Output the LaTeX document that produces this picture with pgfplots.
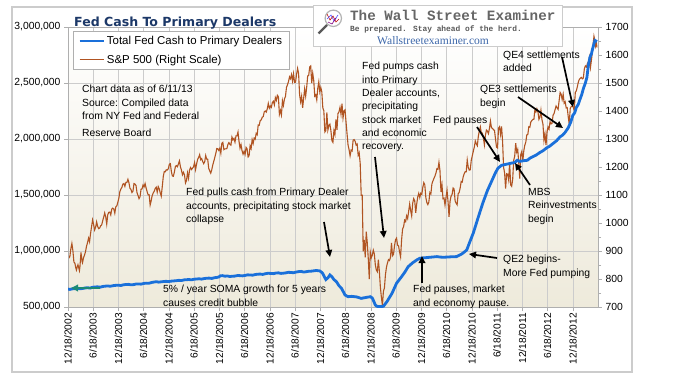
\documentclass[border=0pt]{standalone}
\usepackage{pgfplots}
\pgfplotsset{compat=1.18}
\usepackage{pgfplotstable}
\usepackage{fontspec}
\setmainfont{Liberation Sans}
\newfontfamily\titlefont{DejaVu Sans}
\newfontfamily\logofont{Liberation Mono}
\newfontfamily\urlfont{Liberation Serif}
\usetikzlibrary{arrows.meta}
\definecolor{fedblue}{RGB}{26,112,218}
\definecolor{spbrown}{RGB}{176,84,34}
\definecolor{bgbeige}{RGB}{238,234,219}
\definecolor{gridgray}{RGB}{204,204,204}
\definecolor{axgray}{RGB}{175,175,175}
\definecolor{titlenavy}{RGB}{28,56,104}
\definecolor{tealarrow}{RGB}{28,138,118}
\definecolor{urlblue}{RGB}{62,104,170}
\newcommand{\annfont}{\fontsize{10.4}{13.4}\selectfont}

\pgfplotstableread{
x y
2002.96 890
2002.98 875
2003.00 880
2003.02 909
2003.04 927
2003.06 901
2003.08 861
2003.10 856
2003.12 838
2003.13 832
2003.15 846
2003.16 851
2003.19 830
2003.20 845
2003.22 895
2003.24 864
2003.25 858
2003.27 876
2003.29 885
2003.31 898
2003.33 917
2003.35 930
2003.37 946
2003.39 933
2003.41 963
2003.43 987
2003.45 1011
2003.47 995
2003.49 975
2003.51 985
2003.53 1004
2003.55 988
2003.57 980
2003.59 982
2003.61 990
2003.63 993
2003.65 1008
2003.67 1021
2003.69 1036
2003.71 1022
2003.73 996
2003.75 1029
2003.77 1038
2003.79 1039
2003.81 1029
2003.83 1050
2003.85 1053
2003.87 1050
2003.89 1035
2003.91 1058
2003.93 1061
2003.95 1074
2003.97 1088
2003.99 1112
2004.01 1121
2004.03 1127
2004.05 1139
2004.07 1141
2004.09 1131
2004.11 1145
2004.13 1145
2004.15 1156
2004.17 1144
2004.19 1124
2004.21 1120
2004.23 1109
2004.25 1114
2004.27 1141
2004.29 1139
2004.31 1134
2004.33 1108
2004.35 1098
2004.37 1087
2004.39 1094
2004.41 1121
2004.43 1122
2004.45 1136
2004.47 1129
2004.49 1141
2004.51 1125
2004.53 1112
2004.55 1101
2004.57 1101
2004.59 1064
2004.61 1079
2004.63 1098
2004.65 1107
2004.67 1113
2004.69 1123
2004.71 1128
2004.73 1110
2004.75 1130
2004.77 1122
2004.79 1108
2004.81 1096
2004.83 1130
2004.85 1166
2004.87 1184
2004.89 1183
2004.91 1190
2004.93 1189
2004.95 1194
2004.97 1210
2004.99 1212
2005.01 1184
2005.03 1168
2005.05 1167
2005.07 1182
2005.09 1202
2005.11 1205
2005.13 1201
2005.15 1211
2005.17 1222
2005.19 1200
2005.21 1189
2005.23 1172
2005.25 1181
2005.27 1172
2005.29 1143
2005.31 1152
2005.33 1179
2005.35 1160
2005.37 1189
2005.39 1198
2005.41 1191
2005.43 1196
2005.45 1201
2005.47 1216
2005.49 1191
2005.51 1211
2005.53 1227
2005.55 1234
2005.57 1244
2005.59 1226
2005.61 1230
2005.63 1220
2005.65 1212
2005.67 1218
2005.69 1241
2005.71 1228
2005.73 1228
2005.75 1195
2005.77 1186
2005.79 1178
2005.81 1190
2005.83 1207
2005.85 1220
2005.87 1234
2005.89 1248
2005.91 1266
2005.93 1265
2005.95 1259
2005.97 1267
2005.99 1249
2006.01 1285
2006.03 1288
2006.05 1262
2006.07 1265
2006.09 1265
2006.11 1266
2006.13 1280
2006.15 1287
2006.17 1281
2006.19 1278
2006.21 1307
2006.23 1297
2006.25 1302
2006.27 1289
2006.29 1311
2006.31 1311
2006.33 1325
2006.35 1292
2006.37 1267
2006.39 1280
2006.41 1258
2006.43 1246
2006.45 1256
2006.47 1245
2006.49 1270
2006.51 1265
2006.53 1236
2006.55 1240
2006.57 1276
2006.59 1266
2006.61 1298
2006.63 1284
2006.65 1303
2006.67 1299
2006.69 1320
2006.71 1315
2006.73 1350
2006.75 1349
2006.77 1366
2006.79 1368
2006.81 1378
2006.83 1380
2006.85 1397
2006.87 1400
2006.89 1396
2006.91 1408
2006.93 1427
2006.95 1410
2006.97 1418
2006.99 1413
2007.01 1430
2007.03 1435
2007.05 1422
2007.07 1448
2007.09 1438
2007.11 1456
2007.13 1451
2007.15 1388
2007.17 1402
2007.19 1386
2007.21 1437
2007.23 1420
2007.25 1443
2007.27 1452
2007.29 1484
2007.31 1494
2007.33 1505
2007.35 1522
2007.37 1515
2007.39 1530
2007.41 1507
2007.43 1533
2007.45 1502
2007.47 1503
2007.49 1531
2007.51 1552
2007.53 1534
2007.55 1458
2007.57 1433
2007.59 1453
2007.61 1411
2007.63 1445
2007.65 1479
2007.67 1453
2007.69 1484
2007.71 1525
2007.73 1527
2007.75 1557
2007.77 1561
2007.79 1500
2007.81 1535
2007.83 1509
2007.85 1453
2007.87 1458
2007.89 1440
2007.91 1481
2007.93 1504
2007.95 1468
2007.97 1484
2007.99 1468
2008.01 1411
2008.03 1401
2008.05 1325
2008.07 1330
2008.09 1395
2008.11 1332
2008.13 1349
2008.15 1353
2008.17 1330
2008.19 1294
2008.21 1288
2008.23 1330
2008.25 1316
2008.27 1370
2008.29 1333
2008.31 1391
2008.33 1397
2008.35 1413
2008.37 1388
2008.39 1426
2008.41 1375
2008.43 1400
2008.45 1404
2008.47 1360
2008.49 1318
2008.51 1278
2008.53 1262
2008.55 1240
2008.57 1260
2008.59 1257
2008.61 1296
2008.63 1298
2008.65 1292
2008.67 1278
2008.69 1282
2008.71 1242
2008.73 1251
2008.75 1213
2008.77 1099
2008.79 1099
2008.81 899
2008.83 940
2008.85 877
2008.87 969
2008.89 930
2008.91 873
2008.93 800
2008.95 896
2008.97 876
2008.99 885
2009.01 903
2009.03 890
2009.05 850
2009.07 832
2009.09 826
2009.11 869
2009.13 827
2009.15 770
2009.17 735
2009.19 705
2009.21 756
2009.23 768
2009.25 815
2009.27 842
2009.29 857
2009.31 869
2009.33 866
2009.35 877
2009.37 929
2009.39 883
2009.41 888
2009.43 919
2009.45 940
2009.47 946
2009.49 921
2009.51 918
2009.53 896
2009.55 879
2009.57 940
2009.59 979
2009.61 987
2009.63 1010
2009.65 1005
2009.67 1026
2009.69 1016
2009.71 1042
2009.73 1068
2009.75 1044
2009.77 1025
2009.79 1071
2009.81 1087
2009.83 1079
2009.85 1036
2009.87 1069
2009.89 1093
2009.91 1106
2009.93 1091
2009.95 1106
2009.97 1102
2009.99 1127
2010.01 1144
2010.03 1136
2010.05 1091
2010.07 1073
2010.09 1066
2010.11 1075
2010.13 1109
2010.15 1104
2010.17 1139
2010.19 1150
2010.21 1159
2010.23 1167
2010.25 1178
2010.27 1194
2010.29 1192
2010.31 1217
2010.33 1187
2010.35 1111
2010.37 1136
2010.39 1087
2010.41 1089
2010.43 1064
2010.45 1092
2010.47 1117
2010.49 1076
2010.51 1022
2010.53 1078
2010.55 1096
2010.57 1102
2010.59 1125
2010.61 1121
2010.63 1079
2010.65 1071
2010.67 1065
2010.69 1104
2010.71 1109
2010.73 1125
2010.75 1148
2010.77 1146
2010.79 1165
2010.81 1176
2010.83 1183
2010.85 1183
2010.87 1225
2010.89 1199
2010.91 1189
2010.93 1190
2010.95 1224
2010.97 1240
2010.99 1256
2011.01 1271
2011.03 1293
2011.05 1283
2011.07 1276
2011.09 1310
2011.11 1329
2011.13 1343
2011.15 1320
2011.17 1321
2011.19 1304
2011.21 1279
2011.23 1313
2011.25 1332
2011.27 1328
2011.29 1319
2011.31 1338
2011.33 1364
2011.35 1340
2011.37 1338
2011.39 1333
2011.41 1331
2011.43 1300
2011.45 1271
2011.47 1268
2011.49 1339
2011.51 1344
2011.53 1316
2011.55 1345
2011.57 1292
2011.59 1199
2011.61 1179
2011.63 1123
2011.65 1176
2011.67 1174
2011.69 1154
2011.71 1216
2011.73 1136
2011.75 1131
2011.77 1155
2011.79 1224
2011.81 1238
2011.83 1285
2011.85 1253
2011.87 1263
2011.89 1216
2011.91 1159
2011.93 1244
2011.95 1255
2011.97 1219
2011.99 1257
2012.01 1278
2012.03 1289
2012.05 1315
2012.07 1316
2012.09 1344
2012.11 1342
2012.13 1361
2012.15 1366
2012.17 1370
2012.19 1370
2012.21 1404
2012.23 1397
2012.25 1408
2012.27 1398
2012.29 1370
2012.31 1378
2012.33 1403
2012.35 1369
2012.37 1353
2012.39 1295
2012.41 1318
2012.43 1278
2012.45 1325
2012.47 1343
2012.49 1335
2012.51 1362
2012.53 1354
2012.55 1356
2012.57 1385
2012.59 1391
2012.61 1405
2012.63 1418
2012.65 1411
2012.67 1406
2012.69 1437
2012.71 1466
2012.73 1460
2012.75 1441
2012.77 1460
2012.79 1428
2012.81 1433
2012.83 1411
2012.85 1412
2012.87 1380
2012.89 1353
2012.91 1409
2012.93 1416
2012.95 1418
2012.97 1413
2012.99 1402
2013.01 1466
2013.03 1472
2013.05 1486
2013.07 1503
2013.09 1513
2013.11 1517
2013.13 1520
2013.15 1515
2013.17 1518
2013.19 1551
2013.21 1561
2013.23 1557
2013.25 1569
2013.27 1553
2013.29 1588
2013.31 1555
2013.33 1582
2013.35 1614
2013.36 1633
2013.38 1667
2013.40 1650
2013.41 1631
2013.43 1643
2013.44 1627
}\spdata

\pgfplotstableread{
x y
2002.96 660000
2003.00 657000
2003.05 662000
2003.10 664000
2003.15 668000
2003.20 663000
2003.25 665000
2003.30 670000
2003.35 672000
2003.40 669000
2003.45 676000
2003.50 679000
2003.55 680000
2003.60 677000
2003.65 683000
2003.70 686000
2003.75 688000
2003.80 685000
2003.85 690000
2003.90 693000
2003.96 695000
2004.01 692000
2004.06 698000
2004.11 701000
2004.16 702000
2004.21 698000
2004.26 700000
2004.31 705000
2004.36 706000
2004.41 704000
2004.46 710000
2004.51 713000
2004.56 712000
2004.60 716000
2004.63 720000
2004.67 723000
2004.71 726000
2004.76 722000
2004.81 725000
2004.89 729000
2004.97 728000
2005.01 731000
2005.06 733000
2005.11 735000
2005.16 738000
2005.21 736000
2005.26 742000
2005.31 744000
2005.36 745000
2005.41 743000
2005.46 748000
2005.51 750000
2005.56 752000
2005.61 749000
2005.66 754000
2005.71 757000
2005.76 758000
2005.81 755000
2005.87 762000
2005.91 764000
2005.95 768000
2005.98 778000
2006.02 780000
2006.07 775000
2006.12 777000
2006.17 772000
2006.22 775000
2006.27 776000
2006.32 781000
2006.37 780000
2006.42 778000
2006.47 782000
2006.52 787000
2006.57 786000
2006.62 784000
2006.67 790000
2006.72 793000
2006.77 794000
2006.82 791000
2006.87 797000
2006.92 801000
2006.98 800000
2007.03 798000
2007.08 803000
2007.13 805000
2007.18 800000
2007.23 802000
2007.28 805000
2007.33 810000
2007.38 808000
2007.43 806000
2007.48 812000
2007.53 816000
2007.58 818000
2007.63 812000
2007.68 815000
2007.73 819000
2007.78 820000
2007.83 823000
2007.88 826000
2007.95 822000
2008.00 805000
2008.03 780000
2008.07 745000
2008.11 760000
2008.15 786000
2008.19 770000
2008.23 745000
2008.28 726000
2008.33 690000
2008.38 667000
2008.45 607000
2008.51 592000
2008.58 595000
2008.68 590000
2008.77 577000
2008.86 585000
2008.95 592000
2008.99 580000
2009.01 560000
2009.05 518000
2009.08 506000
2009.14 504000
2009.21 506000
2009.28 548000
2009.38 622000
2009.47 712000
2009.57 771000
2009.64 815000
2009.70 860000
2009.79 895000
2009.87 920000
2009.93 935000
2009.99 938000
2010.06 941000
2010.13 944000
2010.20 947000
2010.27 950000
2010.33 946000
2010.40 944000
2010.47 946000
2010.55 948000
2010.66 950000
2010.76 973000
2010.81 990000
2010.86 1009000
2010.92 1080000
2010.99 1160000
2011.08 1290000
2011.18 1430000
2011.27 1540000
2011.36 1630000
2011.43 1700000
2011.48 1740000
2011.55 1765000
2011.65 1775000
2011.75 1785000
2011.81 1790000
2011.86 1810000
2011.91 1800000
2011.98 1806000
2012.06 1810000
2012.11 1828000
2012.16 1840000
2012.23 1855000
2012.31 1880000
2012.37 1895000
2012.44 1920000
2012.50 1935000
2012.57 1960000
2012.64 1985000
2012.71 2020000
2012.76 2035000
2012.81 2060000
2012.87 2100000
2012.92 2150000
2012.96 2210000
2013.00 2235000
2013.03 2280000
2013.07 2310000
2013.10 2350000
2013.14 2400000
2013.17 2450000
2013.21 2500000
2013.24 2550000
2013.27 2660000
2013.30 2730000
2013.33 2760000
2013.35 2800000
2013.38 2850000
2013.40 2880000
2013.44 2870000
}\feddata

\begin{document}
\begin{tikzpicture}
\path[use as bounding box] (0bp,0bp) rectangle (675bp,-389bp);
\draw[gridgray, line width=1.6bp, fill=white] (12bp,-7bp) rectangle (632bp,-372bp);

% S&P 500 (right scale), with background and grid
\begin{axis}[
  at={(68bp,-307bp)}, anchor=south west,
  scale only axis, width=530bp, height=280bp,
  xmin=2002.963, xmax=2013.46,
  ymin=700, ymax=1700,
  axis y line*=right,
  xtick pos=bottom,
  axis line style={axgray, line width=0.8bp},
  tick style={axgray, line width=0.8bp},
  tick align=outside,
  major tick length=4bp,
  minor tick length=3bp,
  ytick={700,800,...,1700},
  minor y tick num=1,
  xtick={2002.963,2003.46,2003.963,2004.46,2004.963,2005.46,2005.963,2006.46,2006.963,2007.46,2007.963,2008.46,2008.963,2009.46,2009.963,2010.46,2010.963,2011.46,2011.963,2012.46,2012.963},
  xticklabels={12/18/2002,6/18/2003,12/18/2003,6/18/2004,12/18/2004,6/18/2005,12/18/2005,6/18/2006,12/18/2006,6/18/2007,12/18/2007,6/18/2008,12/18/2008,6/18/2009,12/18/2009,6/18/2010,12/18/2010,6/18/2011,12/18/2011,6/18/2012,12/18/2012},
  xticklabel style={rotate=90, anchor=east, font=\fontsize{10.2}{12}\selectfont, inner sep=2bp},
  yticklabel style={font=\fontsize{10.4}{12}\selectfont, /pgf/number format/.cd, 1000 sep={}, assume math mode=true},
  xmajorgrids,
  extra y ticks={900,1100,1300,1500},
  extra y tick labels={},
  extra y tick style={ymajorgrids=true, major tick length=0pt},
  grid style={gridgray, line width=0.8bp},
  axis background/.style={top color=white, bottom color=bgbeige},
]
\addplot[spbrown, line width=1.1bp] table[x=x,y=y] {\spdata};
\end{axis}

% Fed cash (left scale)
\begin{axis}[
  at={(68bp,-307bp)}, anchor=south west,
  scale only axis, width=530bp, height=280bp,
  xmin=2002.963, xmax=2013.46,
  ymin=500000, ymax=3000000,
  axis y line*=left,
  axis x line=none,
  axis line style={axgray, line width=0.8bp},
  tick style={axgray, line width=0.8bp},
  tick align=outside,
  major tick length=4bp,
  ytick={500000,1000000,1500000,2000000,2500000,3000000},
  scaled y ticks=false,
  yticklabel style={font=\fontsize{10.4}{12}\selectfont, /pgf/number format/.cd, fixed, 1000 sep={,}, assume math mode=true},
  legend style={at={(0.0089,0.987)}, anchor=north west, draw=axgray, line width=0.8bp, fill=white,
    font=\fontsize{11.5}{13}\selectfont, inner xsep=5bp, inner ysep=3bp, row sep=5bp},
  legend cell align=left,
  legend image code/.code={\draw[#1] (0bp,0bp) -- (24bp,0bp);},
]
\addplot[fedblue, line width=2.8bp] table[x=x,y=y] {\feddata};
\addlegendentry{Total Fed Cash to Primary Dealers}
\addlegendimage{spbrown, line width=1.1bp}
\addlegendentry{S\&P 500 (Right Scale)}
\end{axis}

\begin{scope}[x=1bp, y=-1bp]
% title
\node[anchor=base west, inner sep=0pt, text=titlenavy, font=\titlefont\bfseries\fontsize{12.6}{14}\selectfont] at (74,26.7) {Fed Cash To Primary Dealers};
% logo
\draw[gridgray, line width=1bp, fill=white] (313,5) rectangle (562,46.7);
\draw[gray!70!black, line width=2.2bp] (327,25) -- (318.5,33.5);
\draw[gray!60, line width=1.2bp, fill=white] (333.3,18.3) circle (8.2bp);
\draw[red!75!black, line width=0.6bp] (327,14) -- (330,20) -- (333,16) -- (336,22) -- (339,19);
\draw[blue!70, line width=0.6bp] (327,19) -- (331,15) -- (334,21) -- (338,15);
\draw[violet, line width=0.6bp] (328,22) -- (332,24) -- (336,18);
\node[anchor=base west, inner sep=0pt, text=gray!80!black, font=\logofont\bfseries\fontsize{14.3}{15}\selectfont] at (350,20.7) {The Wall Street Examiner};
\node[anchor=base west, inner sep=0pt, text=gray!70!black, font=\logofont\bfseries\fontsize{7.9}{9}\selectfont] at (350,31.5) {Be prepared. Stay ahead of the herd.};
\node[anchor=base west, inner sep=0pt, text=urlblue, font=\urlfont\fontsize{11.6}{13}\selectfont] at (377,44.5) {Wallstreetexaminer.com};

\begin{scope}[every node/.style={font=\annfont, align=left, inner sep=0pt, anchor=north west}]
\node at (82,85) {Chart data as of 6/11/13\\Source: Compiled data\\from NY Fed and Federal\\[4bp]Reserve Board};
\node at (186,188) {Fed pulls cash from Primary Dealer\\accounts, precipitating stock market\\collapse};
\node at (362,62) {Fed pumps cash\\into Primary\\Dealer accounts,\\precipitating\\stock market\\and economic\\recovery.};
\node at (433,116) {Fed pauses};
\node at (480,85) {QE3 settlements\\begin};
\node at (503,50.5) {QE4 settlements\\added};
\node at (528,188) {MBS\\Reinvestments\\begin};
\node at (503,255) {QE2 begins-\\More Fed pumping};
\node at (413,285) {Fed pauses, market\\and economy pause.};
\node at (163,285) {5\% / year SOMA growth for 5 years\\causes credit bubble};
\end{scope}

\begin{scope}[line width=1.7bp, -{Triangle[length=7bp,width=6.5bp]}]
\draw (324,222) -- (330,257);
\draw (375,157) -- (384,238);
\draw (477,127) -- (500,162);
\draw (518,97) -- (563,128);
\draw (562,57) -- (573,107);
\draw (530,185) -- (515,163);
\draw (497,258) -- (469,254);
\draw (422,283) -- (422,256);
\draw[tealarrow] (100,288) -- (71,288);
\end{scope}
\end{scope}
\end{tikzpicture}
\end{document}
